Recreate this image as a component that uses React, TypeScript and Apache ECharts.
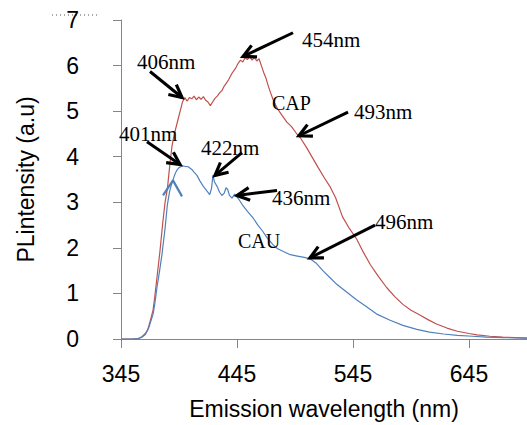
import React, { useEffect, useRef } from "react";
import * as echarts from "echarts";

const xTickValues = [345, 445, 545, 645];
const yTickValues = [0, 1, 2, 3, 4, 5, 6, 7];

const capWavelength = [345, 350, 355, 360, 363, 366, 368, 370, 372.6, 374, 376, 378.6, 381, 383, 385, 387, 389, 391, 394, 396, 398, 400, 402, 404, 406, 408, 410, 412, 414, 416, 418, 420, 422, 424, 426, 428, 430, 432, 434, 436, 438, 440, 442, 444, 446, 448, 450, 452, 454, 456, 458, 460, 462, 464, 466, 468, 470, 472, 474, 476, 478, 480, 484, 488, 492, 496, 500, 505, 510, 515, 520, 525, 530, 536, 542, 548, 554, 560, 567, 574, 581, 588, 595, 603, 610, 617, 626, 635, 645, 652, 663, 674, 685, 695];
const capIntensity = [0, 0, 0, 0.01, 0.05, 0.12, 0.2, 0.38, 0.63, 0.9, 1.35, 1.93, 2.55, 3.0, 3.3, 3.8, 4.24, 4.5, 4.8, 5.0, 5.2, 5.3, 5.22, 5.3, 5.27, 5.33, 5.25, 5.31, 5.26, 5.32, 5.24, 5.2, 5.12, 5.2, 5.28, 5.33, 5.4, 5.45, 5.55, 5.62, 5.7, 5.8, 5.88, 5.95, 6.05, 6.12, 6.08, 6.17, 6.13, 6.2, 6.12, 6.18, 6.1, 6.15, 6.0, 5.85, 5.72, 5.55, 5.4, 5.26, 5.15, 5.05, 4.9, 4.76, 4.66, 4.52, 4.4, 4.2, 3.98, 3.76, 3.55, 3.35, 3.1, 2.68, 2.42, 2.2, 1.9, 1.63, 1.37, 1.13, 0.93, 0.76, 0.63, 0.52, 0.42, 0.33, 0.24, 0.17, 0.12, 0.09, 0.06, 0.04, 0.03, 0.02];

const cauWavelength = [345, 350, 355, 360, 363, 366, 369, 372.6, 374, 376, 378, 380.3, 383, 385, 387, 389, 391, 393, 395, 398, 400, 403, 406, 408, 410.5, 413, 416, 419, 421.5, 423, 424.3, 425.5, 427.8, 430, 432, 434, 435.5, 437, 438.5, 440.7, 443, 445, 447, 450, 454, 459, 463, 467, 471, 476, 480, 485, 491, 497, 503, 508, 513, 519, 525, 531, 540, 548, 557, 566, 577, 588, 600, 611, 623, 635, 648, 660, 675, 695];
const cauIntensity = [0, 0, 0, 0.01, 0.04, 0.1, 0.25, 0.54, 0.75, 1.13, 1.45, 1.85, 2.43, 2.95, 3.25, 3.43, 3.58, 3.7, 3.76, 3.8, 3.79, 3.78, 3.72, 3.66, 3.59, 3.47, 3.35, 3.25, 3.17, 3.3, 3.6, 3.45, 3.35, 3.22, 3.15, 3.2, 3.32, 3.28, 3.15, 3.09, 3.18, 3.12, 3.05, 2.93, 2.8, 2.65, 2.5, 2.37, 2.22, 2.07, 1.98, 1.92, 1.85, 1.82, 1.79, 1.76, 1.67, 1.5, 1.35, 1.2, 1.02, 0.86, 0.7, 0.54, 0.41, 0.3, 0.21, 0.15, 0.11, 0.08, 0.06, 0.04, 0.03, 0.02];

const cauSpikeWavelength = [381.2, 389.8, 397.6];
const cauSpikeIntensity = [3.15, 3.48, 3.13];

const arrowLabels = ["406nm", "401nm", "454nm", "493nm", "422nm", "436nm", "496nm"];
const arrowTipWavelength = [397.6, 395.9, 450.2, 498.4, 426.0, 445.0, 507.9];
const arrowTipIntensity = [5.3, 3.83, 6.2, 4.46, 3.59, 3.15, 1.78];
const arrowTailWavelength = [370.0, 367.4, 493.3, 540.7, 449.3, 479.5, 564.0];
const arrowTailIntensity = [5.87, 4.33, 6.72, 4.98, 4.09, 3.26, 2.5];

const seriesNames = ["CAP", "CAU"];

// label placement (layout, in pixels): left x, middle y
const arrowLabelPos = [[137, 62], [119, 134], [302, 40], [354, 112], [201, 148], [272, 198], [375, 222]];
const seriesLabelPos = [[272, 103], [238, 241]];

const zip = (xs: number[], ys: number[]) => xs.map((x, i) => [x, ys[i]]);

export default function App() {
  const ref = useRef<HTMLDivElement>(null);
  useEffect(() => {
    document.body.style.margin = "0";
    const chart = echarts.init(ref.current!, null, { renderer: "svg" });
    const axisColor = "#868686";
    const sansFont = "Liberation Sans";
    chart.setOption({
      animation: false,
      backgroundColor: "#ffffff",
      grid: { left: 121, right: 0, top: 20, bottom: 83, containLabel: false },
      xAxis: {
        type: "value",
        min: 345,
        max: 695,
        name: "Emission wavelength (nm)",
        nameLocation: "middle",
        nameGap: 58,
        nameTextStyle: { fontSize: 23, color: "#000", fontFamily: sansFont },
        axisLine: { lineStyle: { color: axisColor, width: 1 } },
        axisTick: { show: true, length: 9, lineStyle: { color: axisColor }, customValues: xTickValues },
        axisLabel: { fontSize: 23, color: "#000", fontFamily: sansFont, margin: 23, customValues: xTickValues },
        splitLine: { show: false },
      },
      yAxis: {
        type: "value",
        min: 0,
        max: 7,
        interval: 1,
        name: "PLintensity (a.u)",
        nameLocation: "middle",
        nameGap: 84,
        nameTextStyle: { fontSize: 23, color: "#000", fontFamily: sansFont },
        axisLine: { show: true, lineStyle: { color: axisColor, width: 1 } },
        axisTick: { show: true, length: 8, lineStyle: { color: axisColor }, customValues: yTickValues },
        axisLabel: { fontSize: 23, color: "#000", fontFamily: sansFont, margin: 42, customValues: yTickValues },
        splitLine: { show: false },
      },
      series: [
        {
          name: seriesNames[0],
          type: "line",
          data: zip(capWavelength, capIntensity),
          showSymbol: false,
          lineStyle: { color: "#C0504D", width: 1.2 },
          z: 2,
        },
        {
          name: seriesNames[1],
          type: "line",
          data: zip(cauWavelength, cauIntensity),
          showSymbol: false,
          lineStyle: { color: "#4F81BD", width: 1.2 },
          z: 3,
        },
        {
          name: "CAU spike",
          type: "line",
          data: zip(cauSpikeWavelength, cauSpikeIntensity),
          showSymbol: false,
          lineStyle: { color: "#4F81BD", width: 2.2 },
          z: 3,
        },
      ],
    });

    const graphics: any[] = [];
    const serif = "Liberation Serif";
    arrowLabels.forEach((label, i) => {
      const tip = chart.convertToPixel({ gridIndex: 0 }, [arrowTipWavelength[i], arrowTipIntensity[i]]) as number[];
      const tail = chart.convertToPixel({ gridIndex: 0 }, [arrowTailWavelength[i], arrowTailIntensity[i]]) as number[];
      const dx = tail[0] - tip[0];
      const dy = tail[1] - tip[1];
      const ang = Math.atan2(dy, dx);
      const L = 14;
      const spread = (27 * Math.PI) / 180;
      const a1 = [tip[0] + L * Math.cos(ang + spread), tip[1] + L * Math.sin(ang + spread)];
      const a2 = [tip[0] + L * Math.cos(ang - spread), tip[1] + L * Math.sin(ang - spread)];
      graphics.push({
        type: "polyline",
        shape: { points: [tail, tip] },
        style: { stroke: "#000", lineWidth: 3, fill: null },
        z: 10,
      });
      graphics.push({
        type: "polyline",
        shape: { points: [a1, tip, a2] },
        style: { stroke: "#000", lineWidth: 3.2, fill: null, lineJoin: "miter" },
        z: 10,
      });
      graphics.push({
        type: "text",
        x: arrowLabelPos[i][0],
        y: arrowLabelPos[i][1],
        style: { text: label, fontSize: 21, fontFamily: serif, fill: "#000", align: "left", verticalAlign: "middle" },
        z: 11,
      });
    });
    seriesNames.forEach((name, i) => {
      graphics.push({
        type: "text",
        x: seriesLabelPos[i][0],
        y: seriesLabelPos[i][1],
        style: { text: name, fontSize: 20, fontFamily: serif, fill: "#000", align: "left", verticalAlign: "middle" },
        z: 11,
      });
    });
    graphics.push({
      type: "line",
      shape: { x1: 52, y1: 15, x2: 100, y2: 15 },
      style: { stroke: "#555", lineWidth: 1, lineDash: [1, 3] },
    });
    chart.setOption({ graphic: graphics });

    return () => chart.dispose();
  }, []);
  return <div ref={ref} style={{ width: 527, height: 425 }} />;
}
